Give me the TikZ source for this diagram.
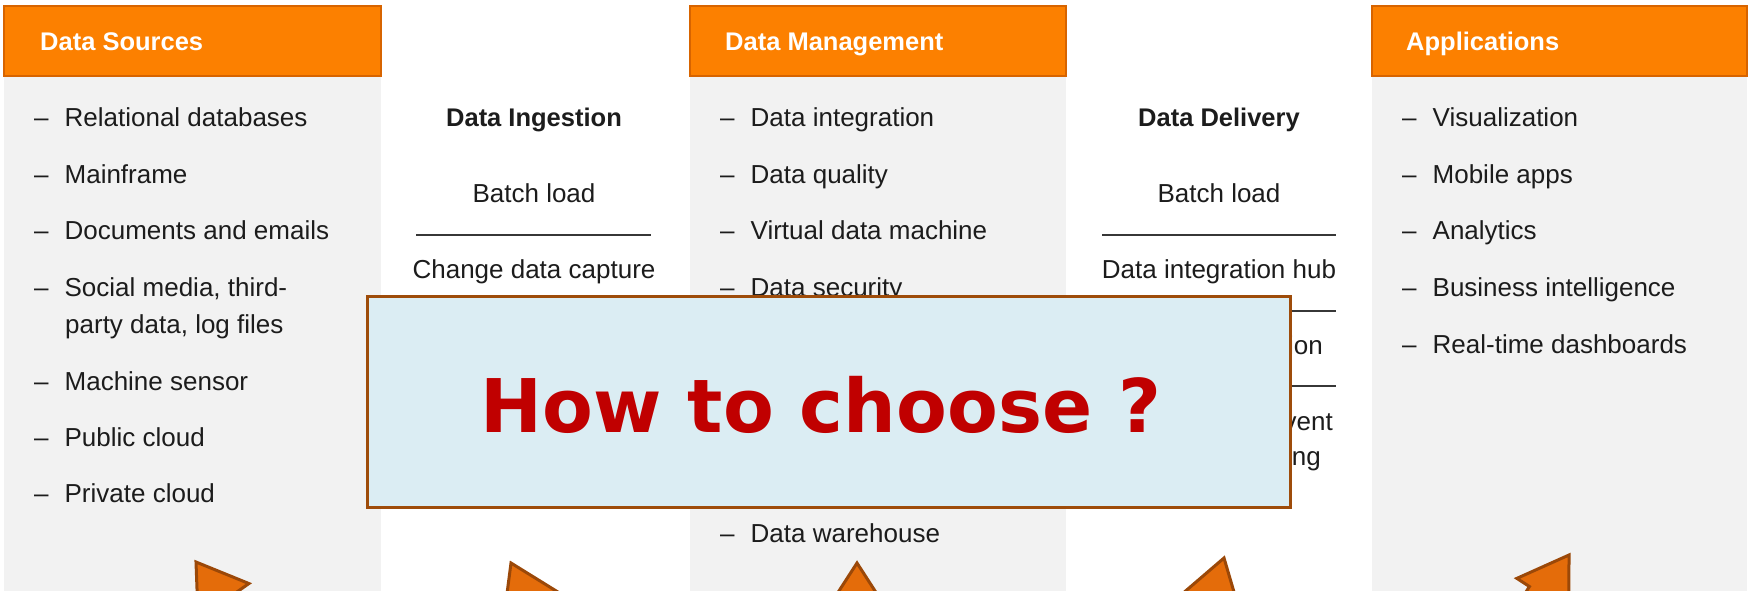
\documentclass[tikz,border=0pt]{standalone}
\usepackage{fontspec}
\setmainfont{Liberation Sans}
\newfontfamily\howfont{DejaVu Sans}
\usepackage{tikz}

\definecolor{hdrorange}{RGB}{252,128,0}
\definecolor{hdredge}{RGB}{215,100,0}
\definecolor{panelgrey}{RGB}{242,242,242}
\definecolor{txtgrey}{RGB}{28,28,28}
\definecolor{linegrey}{RGB}{55,55,55}
\definecolor{boxblue}{RGB}{219,237,243}
\definecolor{boxbrown}{RGB}{158,76,10}
\definecolor{howred}{RGB}{192,0,0}
\definecolor{arroworange}{RGB}{228,108,10}
\definecolor{arrowbrown}{RGB}{155,72,8}

\begin{document}
\begin{tikzpicture}[x=1pt, y=-1pt,
    panel/.style={fill=panelgrey},
    hdr/.style={fill=hdrorange, draw=hdredge, line width=1.5pt},
    hdrtext/.style={anchor=base west, inner sep=0pt, text=white, font=\fontsize{25.5}{30}\selectfont\bfseries},
    item/.style={anchor=base west, inner sep=0pt, text=txtgrey, font=\fontsize{26}{31}\selectfont},
    midtitle/.style={anchor=base, inner sep=0pt, text=txtgrey, font=\fontsize{25.5}{30}\selectfont\bfseries},
    miditem/.style={anchor=base, inner sep=0pt, text=txtgrey, font=\fontsize{26}{31}\selectfont},
    sepline/.style={draw=linegrey, line width=2.5pt},
    choosebox/.style={fill=boxblue, draw=boxbrown, line width=3.5pt, inner sep=0pt},
    howtext/.style={anchor=base, inner sep=0pt, text=howred, font=\howfont\fontsize{74}{80}\selectfont\bfseries},
    arrowbody/.style={fill=arroworange, draw=arrowbrown, line width=3pt, line join=miter},
    blockarrow/.pic={\path[arrowbody] (0,0) -- (-48,31) -- (-48,16) -- (-320,16) -- (-320,-16) -- (-48,-16) -- (-48,-31) -- cycle;}
]
\useasboundingbox (0,0) rectangle (1752,591);
\clip (0,0) rectangle (1752,591);
\fill[white] (0,0) rectangle (1752,591);

% grey columns and orange headers
\fill[panel] (4,76) rectangle (381,591);
\fill[panel] (690,76) rectangle (1066,591);
\fill[panel] (1372,76) rectangle (1747,591);
\path[hdr] (4,6) rectangle (381,76);
\path[hdr] (690,6) rectangle (1066,76);
\path[hdr] (1372,6) rectangle (1747,76);
\node[hdrtext] (srchead) at (40,51) {Data Sources};
\node[hdrtext] (mgthead) at (725,51) {Data Management};
\node[hdrtext] (apphead) at (1406,51) {Applications};

% data sources
\node[item] (src1) at (34,126) {\textendash\hspace{16pt}Relational databases};
\node[item] (src2) at (34,183) {\textendash\hspace{16pt}Mainframe};
\node[item] (src3) at (34,239) {\textendash\hspace{16pt}Documents and emails};
\node[item] (src4) at (34,296) {\textendash\hspace{16pt}Social media, third-};
\node[item] (src4b) at (65,333) {party data, log files};
\node[item] (src5) at (34,390) {\textendash\hspace{16pt}Machine sensor};
\node[item] (src6) at (34,446) {\textendash\hspace{16pt}Public cloud};
\node[item] (src7) at (34,502) {\textendash\hspace{16pt}Private cloud};

% data ingestion
\node[midtitle] (ingtitle) at (534,126) {Data Ingestion};
\node[miditem] (ing1) at (534,202) {Batch load};
\draw[sepline] (416,235) -- (651,235);
\node[miditem] (ing2) at (534,278) {Change data capture};

% data management
\node[item] (mgt1) at (720,126) {\textendash\hspace{16pt}Data integration};
\node[item] (mgt2) at (720,183) {\textendash\hspace{16pt}Data quality};
\node[item] (mgt3) at (720,239) {\textendash\hspace{16pt}Virtual data machine};
\node[item] (mgt4) at (720,296) {\textendash\hspace{16pt}Data security};
\node[item] (mgt9) at (720,542) {\textendash\hspace{16pt}Data warehouse};

% data delivery
\node[midtitle] (deltitle) at (1219,126) {Data Delivery};
\node[miditem] (del1) at (1219,202) {Batch load};
\draw[sepline] (1102,235) -- (1336,235);
\node[miditem] (del2) at (1219,278) {Data integration hub};
\draw[sepline] (1102,311) -- (1336,311);
\node[item, anchor=base east] (del3) at (1323,354) {Data virtualization};
\draw[sepline] (1102,386) -- (1336,386);
\node[item, anchor=base east] (del4) at (1333,430) {Complex event};
\node[item, anchor=base east] (del4b) at (1321,465) {processing};

% applications
\node[item] (app1) at (1402,126) {\textendash\hspace{16pt}Visualization};
\node[item] (app2) at (1402,183) {\textendash\hspace{16pt}Mobile apps};
\node[item] (app3) at (1402,239) {\textendash\hspace{16pt}Analytics};
\node[item] (app4) at (1402,296) {\textendash\hspace{16pt}Business intelligence};
\node[item] (app5) at (1402,353) {\textendash\hspace{16pt}Real-time dashboards};

% the question box
\node[choosebox, minimum width=923pt, minimum height=211pt] (choose) at (829,402) {};
\node[howtext] (howlabel) at (821,432) {How to choose ?};

% arrows from below
\coordinate (tipsrc) at (196,562);
\coordinate (tiping) at (511,563);
\coordinate (tipmgt) at (857,563);
\coordinate (tipdel) at (1224,558);
\coordinate (tipapp) at (1569,555);
\pic[rotate=125] at (tipsrc) {blockarrow};
\pic[rotate=115.4] at (tiping) {blockarrow};
\pic[rotate=90] at (tipmgt) {blockarrow};
\pic[rotate=73.5] at (tipdel) {blockarrow};
\pic[rotate=57] at (tipapp) {blockarrow};
\end{tikzpicture}
\end{document}
